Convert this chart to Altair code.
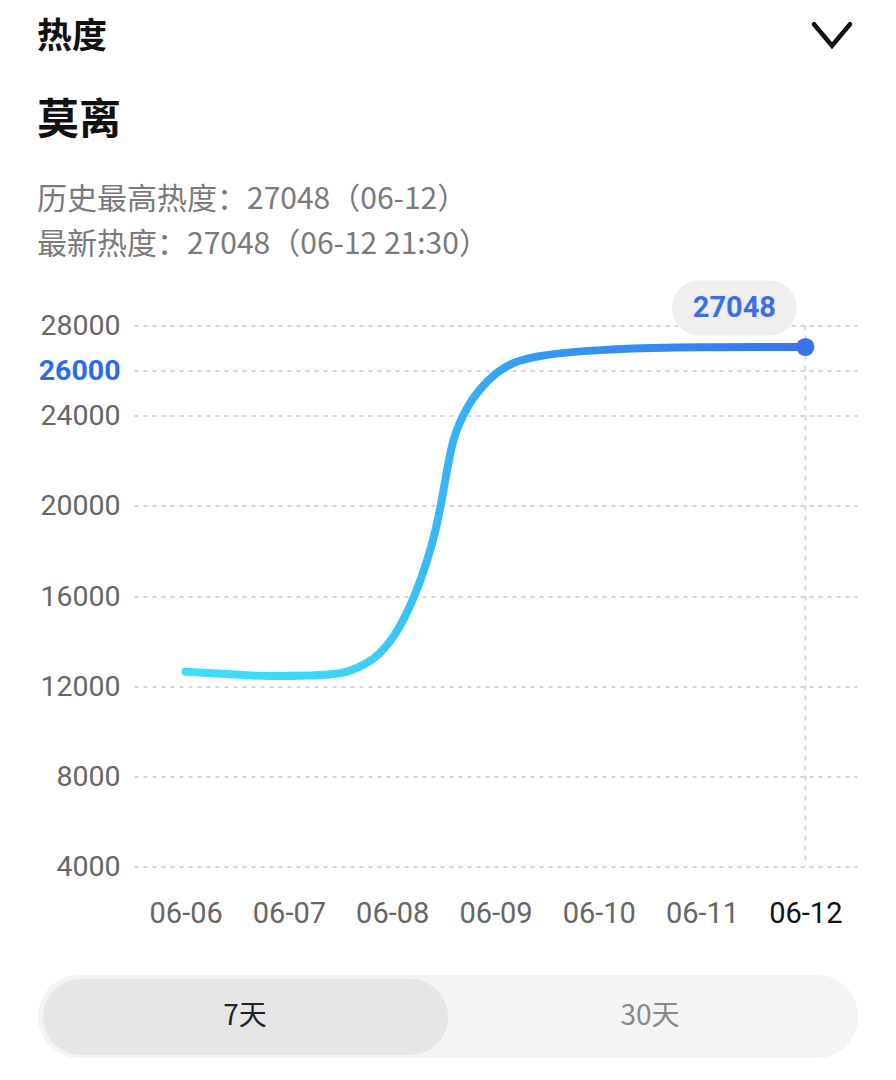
import altair as alt
import pandas as pd

# ---- data ----
dates = ["06-06", "06-07", "06-08", "06-09", "06-10", "06-11", "06-12"]
day_pos = [0.000, 0.397, 0.813, 1.200, 1.490, 1.684, 1.877, 2.052, 2.209, 2.329, 2.419, 2.475,
           2.523, 2.555, 2.594, 2.652, 2.732, 2.845, 3.007, 3.168, 3.397, 4.132, 4.994, 6.000]
heat = [12642, 12540, 12451, 12473, 12571, 12864, 13458, 14492, 15942, 17451, 18928, 20150,
        21380, 22150, 22921, 23661, 24398, 25139, 25880, 26323, 26616, 26935, 27033, 27048]
y_ticks = [4000, 8000, 12000, 16000, 20000, 24000, 26000, 28000]
highlight_tick = 26000
latest_value = 27048
title_top = "热度"
name = "莫离"
info1 = "历史最高热度：27048（06-12）"
info2 = "最新热度：27048（06-12 21:30）"
tabs = ["7天", "30天"]

df = pd.DataFrame({"d": day_pos, "v": heat})
last = pd.DataFrame({"d": [day_pos[-1]], "v": [heat[-1]], "lab": [str(latest_value)],
                     "top": [y_ticks[-1]], "bot": [y_ticks[0]]})
one = pd.DataFrame({"a": [0]})

# page -> plot coordinate helpers (plot origin at page (134, 325.5))
OX, OY = 134, 325.5
def px(v):
    return v - OX
def py(v):
    return v - OY

label_expr = "[" + ",".join("'%s'" % s for s in dates) + "][datum.value]"

x_enc = alt.X("d:Q", scale=alt.Scale(domain=[-0.5, 6.5], nice=False, zero=False),
              axis=alt.Axis(values=list(range(len(dates))), labelExpr=label_expr,
                            grid=False, domain=False, ticks=False, title=None,
                            labelFont="Roboto", labelFontSize=29, labelPadding=33,
                            labelColor={"condition": {"test": "datum.value == 6", "value": "#111111"},
                                        "value": "#666666"}))
y_enc = alt.Y("v:Q", scale=alt.Scale(domain=[4000, 28000], nice=False, zero=False),
              axis=alt.Axis(values=y_ticks, format="d", grid=True, domain=False, ticks=False,
                            title=None, labelFont="Roboto", labelFontSize=28.5, labelPadding=14,
                            gridDash=[4, 5], gridColor="#c9c9c9", gridWidth=1.5,
                            labelColor={"condition": {"test": "datum.value == %d" % highlight_tick,
                                                      "value": "#2a6de8"}, "value": "#666666"},
                            labelFontWeight={"condition": {"test": "datum.value == %d" % highlight_tick,
                                                           "value": "bold"}, "value": "normal"}))

grad = alt.Gradient(gradient="linear", x1=0, x2=1, y1=0, y2=0,
                    stops=[alt.GradientStop(offset=0, color="#41def9"),
                           alt.GradientStop(offset=0.28, color="#3cd2f8"),
                           alt.GradientStop(offset=0.42, color="#37b5f5"),
                           alt.GradientStop(offset=0.58, color="#3398f3"),
                           alt.GradientStop(offset=1, color="#3a74ee")])

line = alt.Chart(df).mark_line(interpolate="monotone", strokeWidth=8, strokeCap="round",
                               color=grad).encode(x=x_enc, y=y_enc)

vrule = alt.Chart(last).mark_rule(color="#cfcfcf", strokeDash=[5, 5], strokeWidth=1.5).encode(
    x="d:Q", y="top:Q", y2="bot:Q")

dot = alt.Chart(last).mark_point(filled=True, size=330, opacity=1, color="#3a72ee").encode(
    x="d:Q", y="v:Q")

bubble_path = ("M-0.58,-0.458 L0.58,-0.458 A0.458,0.458 0 0 1 0.58,0.458 "
               "L-0.58,0.458 A0.458,0.458 0 0 1 -0.58,-0.458 Z")
bubble = alt.Chart(last).mark_point(shape=bubble_path, filled=True, size=14400, opacity=1,
                                    color="#efefef", xOffset=-71, yOffset=-39).encode(
    x="d:Q", y="v:Q")
bubble_text = alt.Chart(last).mark_text(font="Roboto", fontSize=29, fontWeight="bold",
                                        color="#3b6fe6", dx=-71, dy=-39).encode(
    x="d:Q", y="v:Q", text="lab:N")

cjk = "Noto Sans CJK SC"
def label(txt, x, y, size, color, weight="normal", align="left"):
    return alt.Chart(one).mark_text(text=txt, font=cjk, fontSize=size, fontWeight=weight,
                                    color=color, align=align, baseline="middle").encode(
        x=alt.value(px(x)), y=alt.value(py(y)))

t1 = label(title_top, 37, 37, 35, "#111111", "bold")
t2 = label(name, 37, 121, 42, "#111111", "bold")
t3 = label(info1, 37, 200, 30, "#7a7a7a")
t4 = label(info2, 37, 245, 30, "#7a7a7a")

chevron = alt.Chart(one).mark_point(shape="M-1,-0.6L0,0.6L1,-0.6", filled=False, size=1296,
                                    color="#111111", strokeWidth=4.5, opacity=1,
                                    strokeCap="round").encode(
    x=alt.value(px(832)), y=alt.value(py(35)))

outer = alt.Chart(one).mark_rect(color="#f4f4f4", cornerRadius=41).encode(
    x=alt.value(px(38)), x2=alt.value(px(858)), y=alt.value(py(975)), y2=alt.value(py(1058)))
inner = alt.Chart(one).mark_rect(color="#e6e6e6", cornerRadius=38).encode(
    x=alt.value(px(43)), x2=alt.value(px(448)), y=alt.value(py(979)), y2=alt.value(py(1055)))
tab1 = label(tabs[0], 245, 1017, 28, "#222222", align="center")
tab2 = label(tabs[1], 650, 1017, 28, "#888888", align="center")

chart = alt.layer(vrule, line, dot, bubble, bubble_text, t1, t2, t3, t4, chevron,
                  outer, inner, tab1, tab2).properties(
    width=723, height=541,
    padding={"left": 126, "top": 317.5, "right": 30, "bottom": 200},
    autosize=alt.AutoSizeParams(type="none"),
    background="white",
).configure_view(stroke=None)

chart.save("out.html", embed_options={"renderer": "svg", "actions": False})
